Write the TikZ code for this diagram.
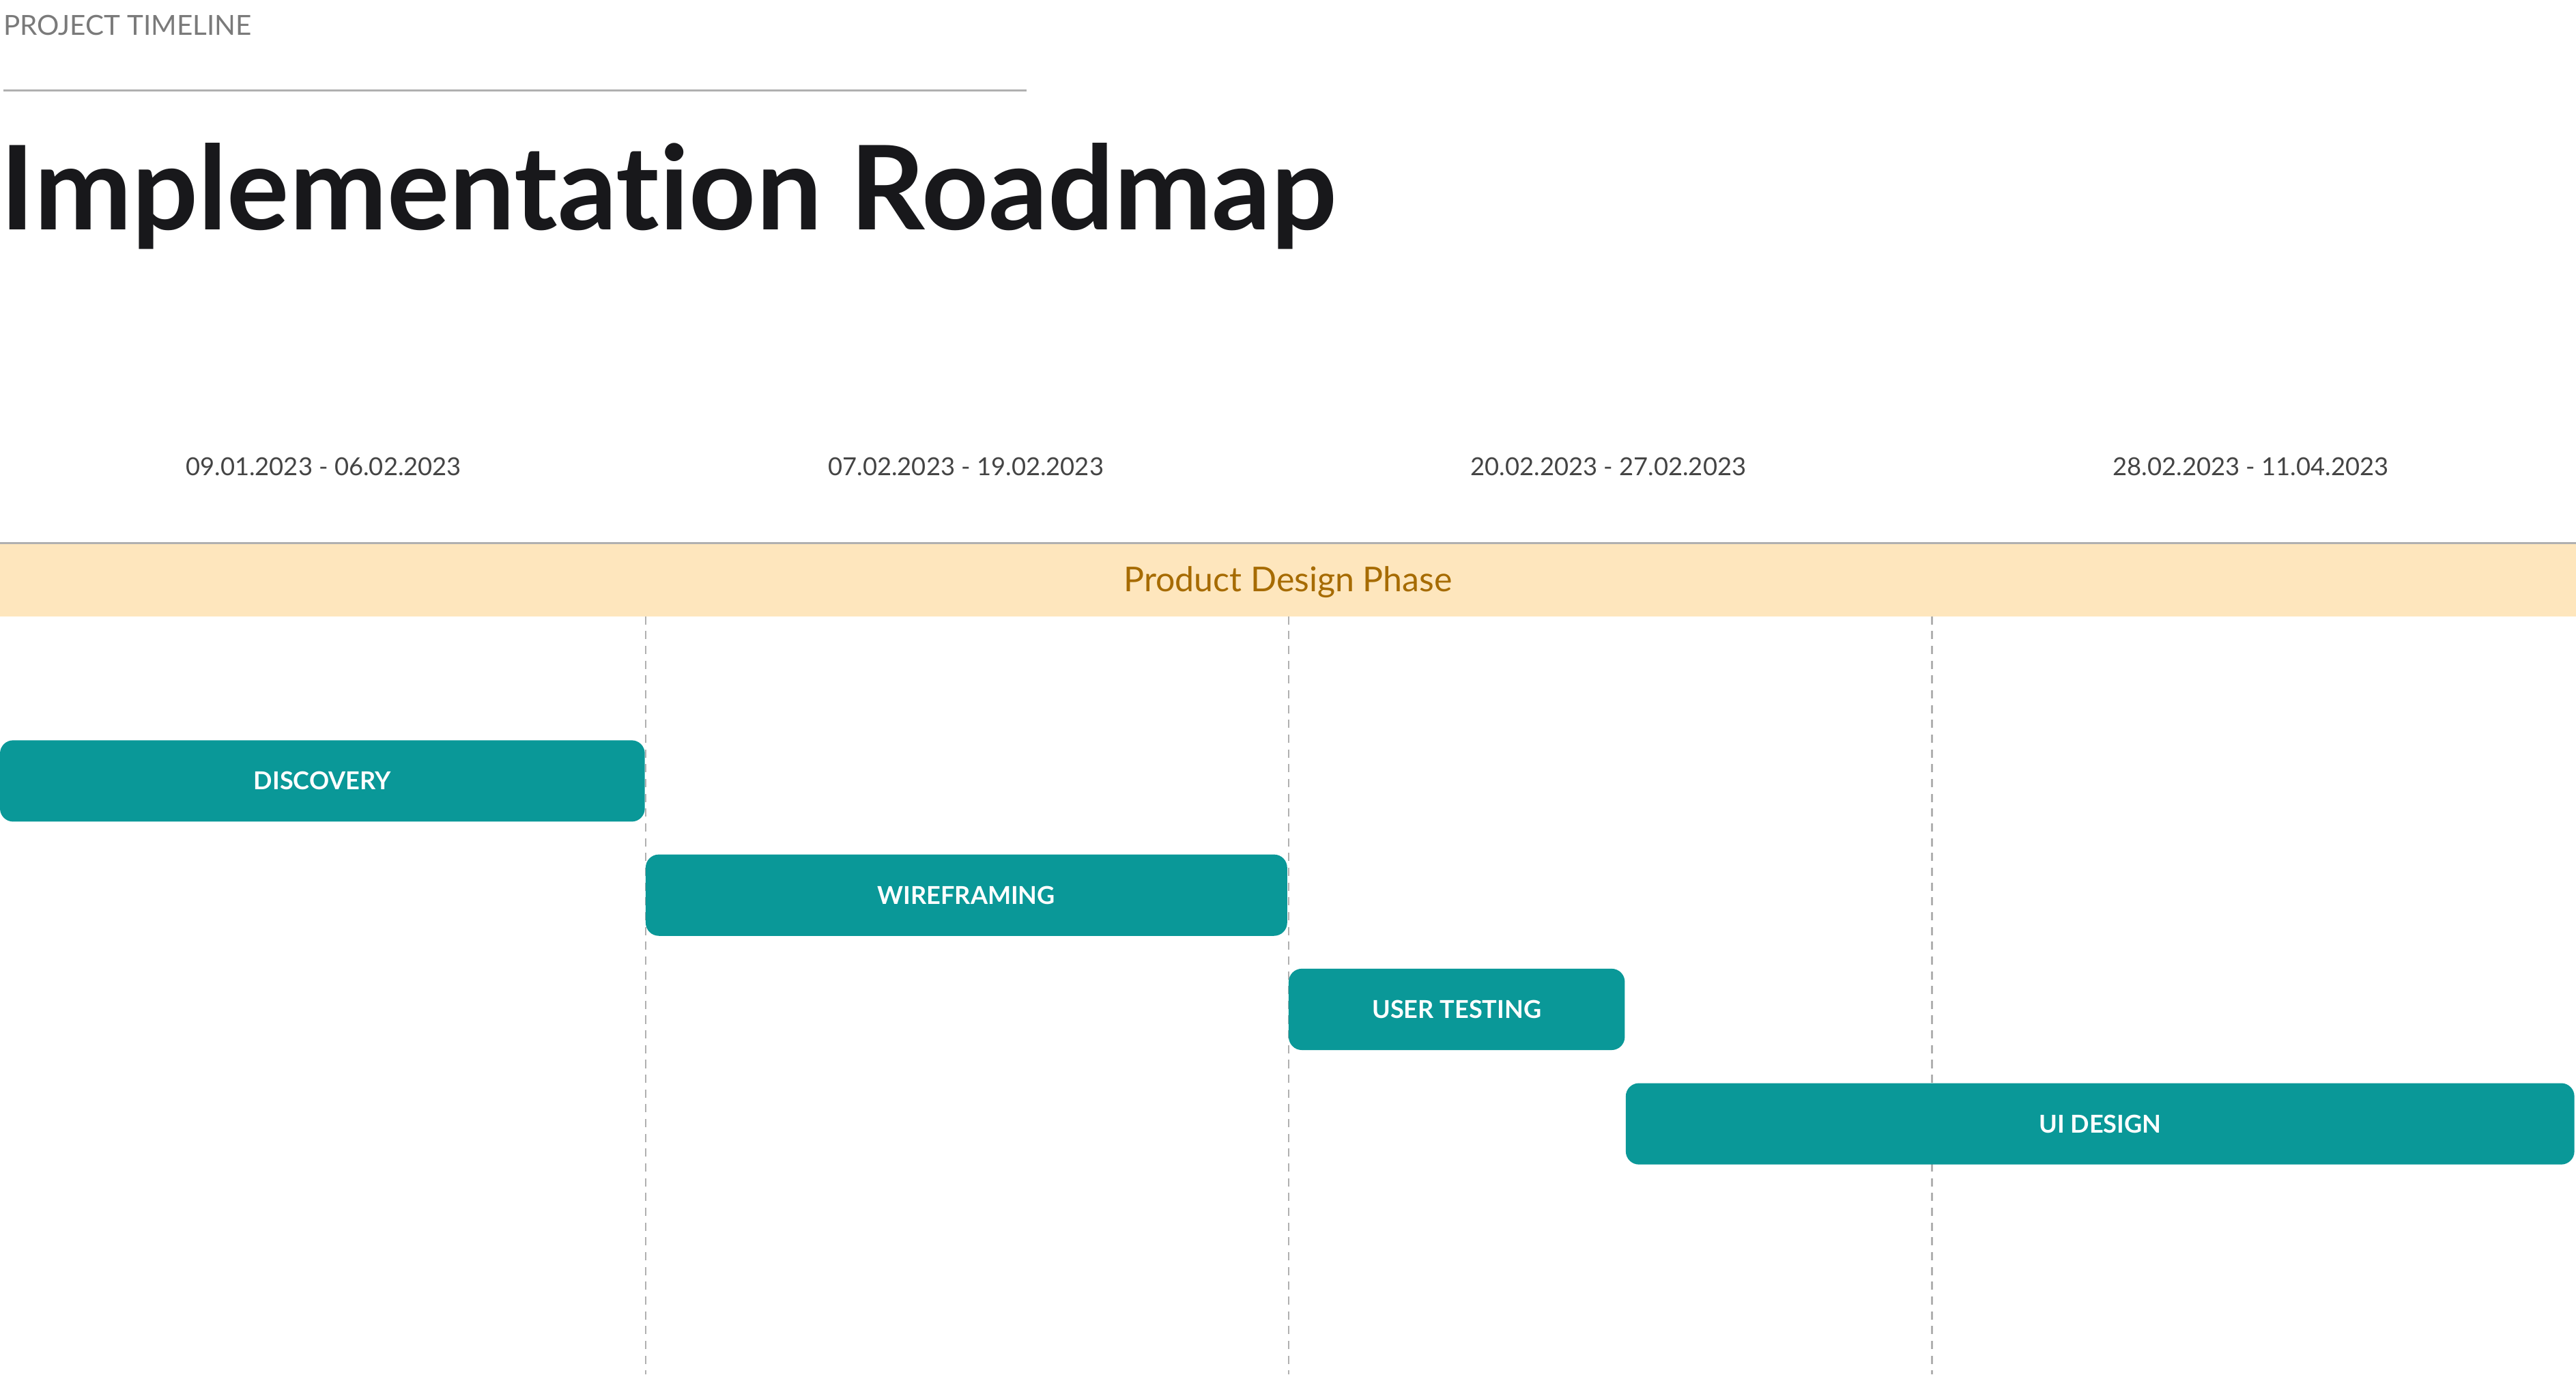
\documentclass[tikz,border=0pt]{standalone}
\usepackage{fontspec}
\setmainfont{Lato}[Ligatures=NoCommon]
\usepackage{tikz}

\definecolor{teal}{RGB}{10,152,152}
\definecolor{bandfill}{RGB}{254,230,189}
\definecolor{bandtext}{RGB}{166,107,0}
\definecolor{datetext}{RGB}{68,68,68}
\definecolor{titletext}{RGB}{24,24,27}
\definecolor{kicker}{RGB}{122,122,122}
\definecolor{rule}{RGB}{176,176,176}

\tikzset{
  taskbar/.style={fill=teal, rounded corners=8pt, inner sep=0pt, text=white,
    font=\fontsize{15}{17}\selectfont\bfseries, minimum height=49.5pt},
  datelabel/.style={text=datetext, font=\fontsize{15.1}{18}\selectfont, inner sep=0pt, anchor=base},
  gridline/.style={rule, line width=1pt, dash pattern=on 5pt off 4pt}
}

\begin{document}
\begin{tikzpicture}[x=1pt, y=-1pt]
\useasboundingbox (0,0) rectangle (1568,836.35);
% header
\node[anchor=base west, inner sep=0pt, text=kicker, font=\fontsize{16.8}{19}\selectfont] (kicker) at (2,21.5) {PROJECT TIMELINE};
\draw[rule, line width=1pt] (2,55) -- (625,55);
\node[anchor=base west, inner sep=0pt, text=titletext, font=\fontsize{71}{80}\selectfont\bfseries] (title) at (0,140) {Implementation Roadmap};
% date columns
\node[datelabel] (d1) at (197,289.5) {09.01.2023 - 06.02.2023};
\node[datelabel] (d2) at (588,289.5) {07.02.2023 - 19.02.2023};
\node[datelabel] (d3) at (979,289.5) {20.02.2023 - 27.02.2023};
\node[datelabel] (d4) at (1370,289.5) {28.02.2023 - 11.04.2023};
% phase band
\fill[bandfill] (0,331) rectangle (1568,375);
\draw[rule, line width=1pt] (0,330.5) -- (1568,330.5);
\node[anchor=base, text=bandtext, font=\fontsize{20.8}{24}\selectfont, inner sep=0pt] (phase) at (784,360) {Product Design Phase};
% grid
\foreach \x/\n in {393/g1, 784.5/g2, 1176/g3} {
  \coordinate (\n top) at (\x,375);
  \coordinate (\n bot) at (\x,836.35);
  \draw[gridline] (\n top) -- (\n bot);
}
% tasks
\node[taskbar, minimum width=392.5pt] (discovery) at (196.25,475.25) {DISCOVERY};
\node[taskbar, minimum width=390.5pt] (wireframing) at (588.25,544.75) {WIREFRAMING};
\node[taskbar, minimum width=204.6pt] (testing) at (886.7,614.25) {USER TESTING};
\node[taskbar, minimum width=577.4pt] (uidesign) at (1278.3,683.9) {UI DESIGN};
\end{tikzpicture}
\end{document}
